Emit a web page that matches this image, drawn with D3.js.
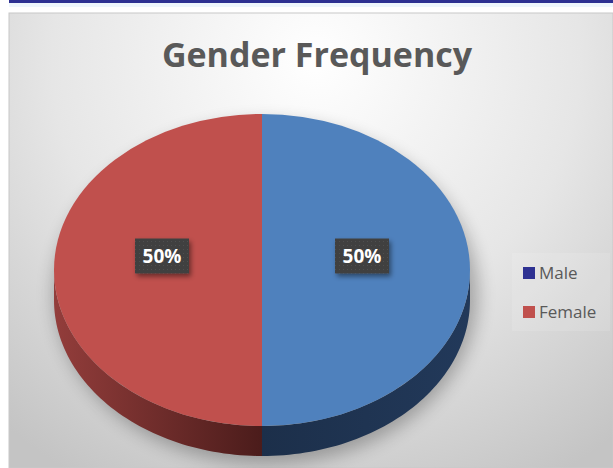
<!DOCTYPE html>
<html>
<head>
<meta charset="utf-8">
<script src="https://cdn.jsdelivr.net/npm/d3@7"></script>
<style>
  html, body { margin: 0; padding: 0; background: #fff; }
  svg { display: block; font-family: "Open Sans", sans-serif; }
</style>
</head>
<body>
<svg id="chart" width="613" height="468"></svg>
<script>
// chart data
const categories = ['Male', 'Female'];
const values = [50, 50];
const sliceColors = ['#4f81bd', '#c0504d'];
const legendColors = ['#2e3192', '#c0504d'];
const title = 'Gender Frequency';

const W = 613, H = 468;
const CX = 262, CY = 270, RX = 208, RY = 156, DEPTH = 30;

const svg = d3.select('#chart');
const defs = svg.append('defs');

// background gradient of the chart area
const bg = defs.append('radialGradient').attr('id', 'bg')
  .attr('gradientUnits', 'userSpaceOnUse')
  .attr('cx', 316).attr('cy', 60).attr('r', 480);
bg.append('stop').attr('offset', 0).attr('stop-color', '#ffffff');
bg.append('stop').attr('offset', 0.55).attr('stop-color', '#e6e6e6');
bg.append('stop').attr('offset', 1).attr('stop-color', '#c4c4c4');

const redSide = defs.append('linearGradient').attr('id', 'redSide')
  .attr('gradientUnits', 'userSpaceOnUse')
  .attr('x1', CX - RX).attr('x2', CX).attr('y1', 0).attr('y2', 0);
redSide.append('stop').attr('offset', 0).attr('stop-color', '#933d3b');
redSide.append('stop').attr('offset', 1).attr('stop-color', '#4b1c1b');

const blueSide = defs.append('linearGradient').attr('id', 'blueSide')
  .attr('gradientUnits', 'userSpaceOnUse')
  .attr('x1', CX).attr('x2', CX + RX).attr('y1', 0).attr('y2', 0);
blueSide.append('stop').attr('offset', 0).attr('stop-color', '#1c2f4a');
blueSide.append('stop').attr('offset', 1).attr('stop-color', '#22395a');

const blur = defs.append('filter').attr('id', 'pieShadow')
  .attr('x', '-20%').attr('y', '-20%').attr('width', '140%').attr('height', '140%');
blur.append('feGaussianBlur').attr('stdDeviation', 9);

const lblShadow = defs.append('filter').attr('id', 'lblShadow')
  .attr('x', '-30%').attr('y', '-30%').attr('width', '160%').attr('height', '160%');
lblShadow.append('feDropShadow').attr('dx', 2).attr('dy', 3)
  .attr('stdDeviation', 2.5).attr('flood-color', '#000').attr('flood-opacity', 0.45);

const dots = defs.append('pattern').attr('id', 'dots')
  .attr('patternUnits', 'userSpaceOnUse').attr('width', 4).attr('height', 4);
dots.append('rect').attr('width', 4).attr('height', 4).attr('fill', '#404040');
dots.append('rect').attr('x', 1).attr('y', 1).attr('width', 1).attr('height', 1).attr('fill', '#505050');

// page decoration above chart
svg.append('rect').attr('x', 9).attr('y', 0).attr('width', W - 9).attr('height', 3).attr('fill', '#2e3192');
svg.append('rect').attr('x', 9).attr('y', 3).attr('width', W - 9).attr('height', 4).attr('fill', '#eef6fd');

// chart area
svg.append('rect').attr('x', 9).attr('y', 13).attr('width', W - 9).attr('height', H - 13)
  .attr('fill', 'url(#bg)').attr('stroke', '#c8c8c8').attr('stroke-width', 1);

svg.append('text')
  .attr('x', 317).attr('y', 67)
  .attr('text-anchor', 'middle')
  .attr('font-size', 34).attr('font-weight', 700)
  .attr('fill', '#595959')
  .text(title);

const pie = d3.pie().sort(null).value(d => d)(values);

// point on the top ellipse for a d3 pie angle
const pt = a => [CX + RX * Math.sin(a), CY - RY * Math.cos(a)];

// shadow under the pie
svg.append('ellipse')
  .attr('cx', CX + 4).attr('cy', CY + DEPTH / 2 + 8)
  .attr('rx', RX + 4).attr('ry', RY + DEPTH / 2)
  .attr('fill', '#000').attr('opacity', 0.28).attr('filter', 'url(#pieShadow)');

// side walls (front half only)
function sidePath (a0, a1) {
  const n = 60;
  const top = d3.range(n + 1).map(i => pt(a0 + (a1 - a0) * i / n));
  const bottom = top.map(p => [p[0], p[1] + DEPTH]).reverse();
  return d3.line()(top.concat(bottom)) + 'Z';
}
const sideFills = ['url(#blueSide)', 'url(#redSide)'];
svg.append('g').selectAll('path')
  .data(pie)
  .join('path')
  .attr('d', d => {
    const a0 = Math.max(d.startAngle, Math.PI / 2);
    const a1 = Math.min(d.endAngle, 3 * Math.PI / 2);
    return a1 > a0 ? sidePath(a0, a1) : null;
  })
  .attr('fill', (d, i) => sideFills[i]);

// top face
const arc = d3.arc().innerRadius(0).outerRadius(RX);
svg.append('g')
  .attr('transform', `translate(${CX},${CY}) scale(1,${RY / RX})`)
  .selectAll('path')
  .data(pie)
  .join('path')
  .attr('d', arc)
  .attr('fill', (d, i) => sliceColors[i]);

// data labels
const labelArc = d3.arc().innerRadius(100).outerRadius(100);
const total = d3.sum(values);
const labels = svg.append('g').selectAll('g')
  .data(pie)
  .join('g')
  .attr('transform', d => {
    const c = labelArc.centroid(d);
    return `translate(${CX + c[0]},${CY + c[1] * RY / RX - 14})`;
  });
labels.append('rect')
  .attr('x', -27).attr('y', -17.5).attr('width', 54).attr('height', 35)
  .attr('fill', 'url(#dots)').attr('filter', 'url(#lblShadow)');
labels.append('text')
  .attr('text-anchor', 'middle').attr('y', 7)
  .attr('font-size', 19).attr('font-weight', 700).attr('fill', '#fff')
  .text(d => Math.round(d.value / total * 100) + '%');

// legend
const legend = svg.append('g');
legend.append('rect').attr('x', 512).attr('y', 253).attr('width', 98).attr('height', 78)
  .attr('fill', '#fff').attr('opacity', 0.12);
const items = legend.selectAll('g.item')
  .data(categories)
  .join('g').attr('class', 'item')
  .attr('transform', (d, i) => `translate(523,${267 + i * 39})`);
items.append('rect').attr('width', 12).attr('height', 12)
  .attr('fill', (d, i) => legendColors[i]);
items.append('text').attr('x', 16).attr('y', 12)
  .attr('font-size', 17).attr('fill', '#595959')
  .text(d => d);
</script>
</body>
</html>
